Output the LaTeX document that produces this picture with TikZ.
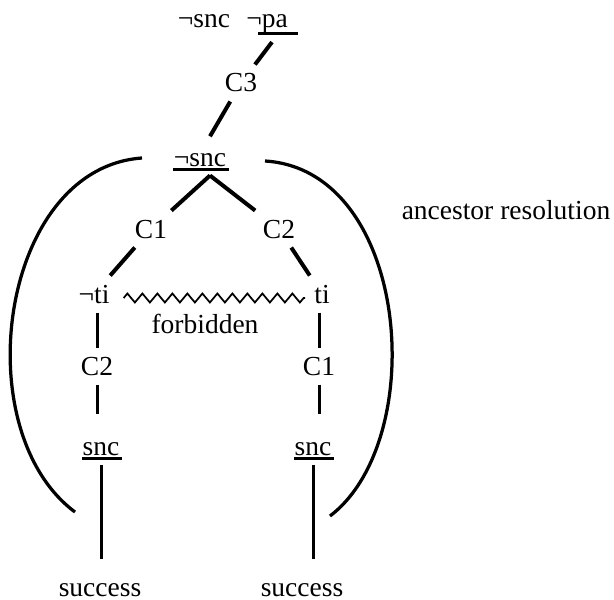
\documentclass[tikz,border=0pt]{standalone}
\usepackage{fontspec}
\setmainfont{Liberation Serif}
\usetikzlibrary{positioning,decorations.pathmorphing}

\begin{document}
\begin{tikzpicture}[x=0.4pt,y=-0.4pt,
        lit/.style={anchor=base,inner sep=3.5pt,font=\fontsize{11}{13}\selectfont},
        edge/.style={line width=1.6pt},
        stem/.style={line width=1.2pt},
        uline/.style={line width=1.2pt},
        arcline/.style={line width=1.3pt}]
                \useasboundingbox (0,0) rectangle (614,600);
                % literals and clauses
                \node[lit] (top1) at (204,27) {¬snc};
                \node[lit] (top2) at (267,27) {¬pa};
                \node[lit] (c3) at (241,92) {C3};
                \node[lit] (root) at (200,166) {¬snc};
                \node[lit] (c1a) at (151,238) {C1};
                \node[lit] (c2a) at (279,238) {C2};
                \node[lit] (nti) at (94,303) {¬ti};
                \node[lit] (ti) at (322,303) {ti};
                \node[lit] (forb) at (205,333) {forbidden};
                \node[lit] (c2b) at (97,375) {C2};
                \node[lit] (c1b) at (319,375) {C1};
                \node[lit] (sncl) at (101,455) {snc};
                \node[lit] (sncr) at (313,455) {snc};
                \node[lit] (succl) at (100,596) {success};
                \node[lit] (succr) at (302,596) {success};
                \node[lit] (anc) at (506,219) {ancestor resolution};
                % underlines
                \draw[uline] ([xshift=8.5pt,yshift=-2.4pt]top2.base west) -- ([xshift=0.5pt,yshift=-2.4pt]top2.base east);
                \foreach \n in {root,sncl,sncr}
                    \draw[uline] ([xshift=3.5pt,yshift=-1.4pt]\n.base west) -- ([xshift=-2.5pt,yshift=-1.4pt]\n.base east);
                % resolution steps
                \draw[edge] ([xshift=2pt]top2.south) -- (c3);
                \draw[edge] (c3) -- ([xshift=4pt,yshift=3pt]root.north);
                \draw[edge] ([xshift=4pt]root.south) -- (c1a);
                \draw[edge] (c1a) -- (nti);
                \draw[edge] ([xshift=4pt]root.south) -- (c2a);
                \draw[edge] (c2a) -- (ti);
                \draw[stem] (c2b |- nti.south) -- (c2b);
                \draw[stem, shorten >=7.5pt] (c2b) -- (c2b |- sncl.north);
                \draw[stem] (c1b |- ti.south) -- (c1b);
                \draw[stem, shorten >=7.5pt] (c1b) -- (c1b |- sncr.north);
                \draw[stem, shorten >=6pt] (sncl) -- (sncl |- succl.north);
                \draw[stem, shorten >=6pt] (sncr) -- (sncr |- succr.north);
                % forbidden link
                \draw[decorate, decoration={zigzag,segment length=6pt,amplitude=1.8pt}, line width=0.7pt]
                    ([xshift=2pt,yshift=2pt]nti.base east) -- ([yshift=2pt]ti.base west);
                % ancestor resolution arcs
                \draw[arcline] (142,158) .. controls (0,168) and (-35,430) .. (75,512);
                \draw[arcline] (265,161) .. controls (410,170) and (430,440) .. (330,516);
            \end{tikzpicture}
\end{document}
